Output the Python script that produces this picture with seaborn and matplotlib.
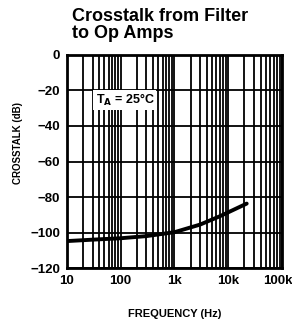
import numpy as np
import pandas as pd
import matplotlib
matplotlib.use('Agg')
import matplotlib.pyplot as plt
from matplotlib.ticker import FixedLocator, LogLocator, NullFormatter
from matplotlib.transforms import ScaledTranslation
import seaborn as sns

# values
freq_hz = [10, 30, 100, 300, 1000, 3000, 7000, 22000]
crosstalk_db = [-104.8, -104.0, -103.2, -102.0, -99.8, -95.5, -90.8, -83.7]
y_ticks = [0, -20, -40, -60, -80, -100, -120]
x_ticks = [10, 100, 1000, 10000, 100000]
x_labels = ['10', '100', '1k', '10k', '100k']

df = pd.DataFrame({'freq': freq_hz, 'db': crosstalk_db})

sns.set_theme(style='white')
plt.rcParams['font.family'] = ['Liberation Sans Narrow', 'Liberation Sans', 'DejaVu Sans']
plt.rcParams['text.color'] = 'black'
plt.rcParams['axes.labelcolor'] = 'black'
plt.rcParams['xtick.color'] = 'black'
plt.rcParams['ytick.color'] = 'black'

fig = plt.figure(figsize=(2.92, 3.23), dpi=100)
ax = fig.add_axes([0.229, 0.170, 0.737, 0.660])

ax.set_xscale('log')
ax.set_xlim(10, 100000)
ax.set_ylim(-120, 0)
ax.xaxis.set_major_locator(FixedLocator(x_ticks))
ax.xaxis.set_minor_locator(LogLocator(base=10, subs=np.arange(2, 10)))
ax.xaxis.set_minor_formatter(NullFormatter())
ax.set_xticks(x_ticks)
ax.set_xticklabels(x_labels)
ax.set_yticks(y_ticks)

ax.grid(True, which='both', axis='x', color='black', linewidth=1.3)
ax.grid(True, which='major', axis='y', color='black', linewidth=1.3)
ax.set_axisbelow(True)

sns.lineplot(data=df, x='freq', y='db', ax=ax, color='black', linewidth=2.8)

for s in ax.spines.values():
    s.set_color('black')
    s.set_linewidth(2)

ax.tick_params(axis='both', which='both', length=0, labelsize=9.5, pad=5)
for lab in ax.get_xticklabels() + ax.get_yticklabels():
    lab.set_fontweight('bold')
# last label sits at the right edge; nudge it in a little
last = ax.get_xticklabels()[-1]
last.set_transform(last.get_transform() + ScaledTranslation(-4 / 100, 0, fig.dpi_scale_trans))

ax.set_xlabel('FREQUENCY (Hz)', fontsize=8, fontweight='bold', labelpad=16)
ax.set_ylabel('CROSSTALK (dB)', fontsize=7, fontweight='bold')
ax.yaxis.set_label_coords(-0.205, 0.587)

ax.text(120, -25.5, r'T$_\mathbf{A}$ = 25°C', fontsize=9, fontweight='bold',
        ha='center', va='center',
        bbox=dict(facecolor='white', edgecolor='none', pad=1.5))

fig.text(0.245, 0.975, 'Crosstalk from Filter\nto Op Amps', fontsize=13,
         fontweight='bold', ha='left', va='top', linespacing=1.0,
         family=['Liberation Sans', 'DejaVu Sans'])

fig.savefig('out.png', dpi=100)
